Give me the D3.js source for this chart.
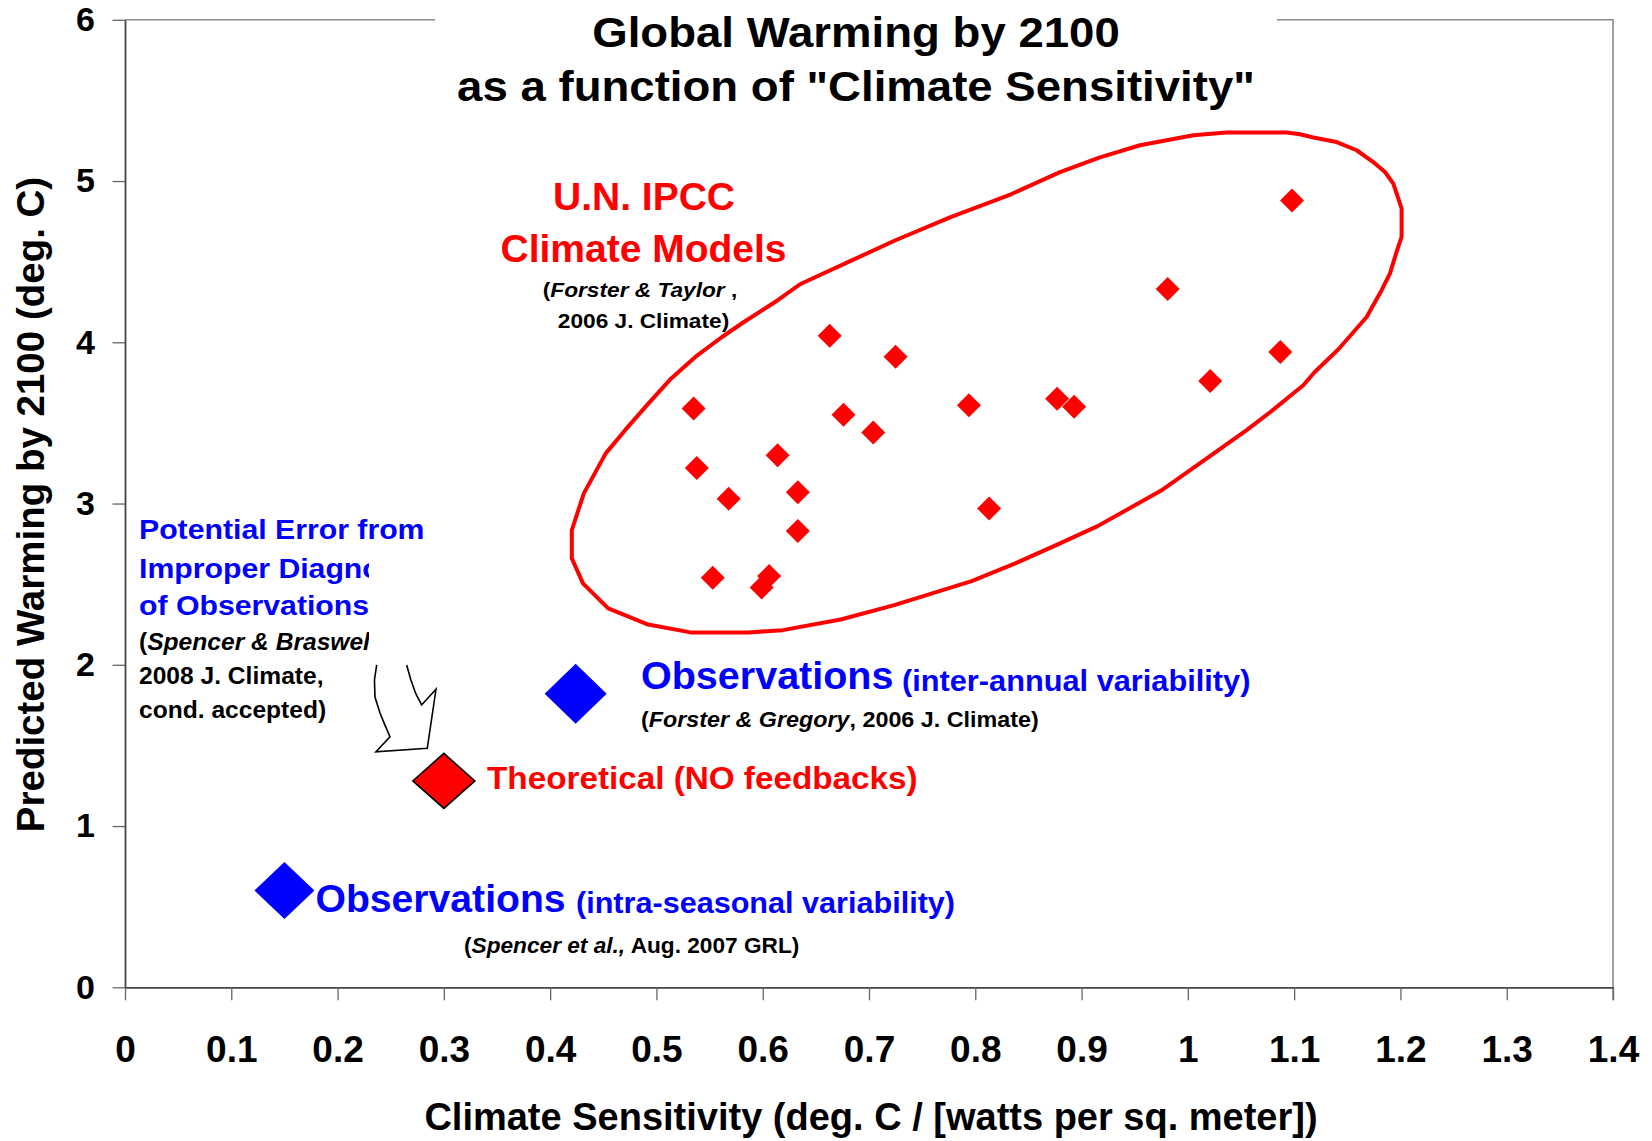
<!DOCTYPE html>
<html>
<head>
<meta charset="utf-8">
<script src="https://cdn.jsdelivr.net/npm/d3@7"></script>
<style>
  html, body { margin: 0; padding: 0; background: #fff; }
  svg { display: block; font-family: "Liberation Sans", Arial, sans-serif; }
</style>
</head>
<body>
<svg id="chart" width="1652" height="1141"></svg>
<script>
// Axis ticks
const xTicks = [0, 0.1, 0.2, 0.3, 0.4, 0.5, 0.6, 0.7, 0.8, 0.9, 1, 1.1, 1.2, 1.3, 1.4];
const xTickLabels = ["0", "0.1", "0.2", "0.3", "0.4", "0.5", "0.6", "0.7", "0.8", "0.9", "1", "1.1", "1.2", "1.3", "1.4"];
const yTicks = [0, 1, 2, 3, 4, 5, 6];
const yTickLabels = ["0", "1", "2", "3", "4", "5", "6"];

// IPCC climate models (Forster & Taylor 2006): sensitivity vs. warming by 2100
const ipccSensitivity = [0.663, 0.725, 0.535, 0.676, 0.704, 0.794, 0.877, 0.893, 1.021, 1.087,
                         0.614, 0.538, 0.568, 0.633, 0.813, 0.633, 0.553, 0.606, 0.599, 1.098, 0.981];
const ipccWarming     = [4.04, 3.91, 3.59, 3.55, 3.44, 3.61, 3.65, 3.60, 3.76, 3.94,
                         3.30, 3.22, 3.03, 3.07, 2.97, 2.83, 2.54, 2.55, 2.48, 4.88, 4.33];

// Single estimates: observations and no-feedback theory
const markerNames       = ["Observations (inter-annual)", "Observations (intra-seasonal)", "Theoretical (NO feedbacks)"];
const markerSensitivity = [0.424, 0.15, 0.30];
const markerWarming     = [1.82, 0.60, 1.28];

// Hand-drawn envelope round the model cloud (data units)
const envelopeX = [0.4204, 0.4317, 0.4523, 0.4705, 0.4911, 0.5139, 0.5366, 0.5617, 0.5823, 0.6142,
                   0.6351, 0.6802, 0.7249, 0.7762, 0.8336, 0.8797, 0.9173, 0.9550, 1.0051, 1.0365,
                   1.0929, 1.1055, 1.1180, 1.1400, 1.1588, 1.1744, 1.1855, 1.1933, 1.2011, 1.2011,
                   1.1964, 1.1901, 1.1823, 1.1682, 1.1415, 1.1196, 1.1086, 1.0819, 1.0553, 1.0155,
                   0.9745, 0.9151, 0.8740, 0.8376, 0.7966, 0.7237, 0.6734, 0.6188, 0.5868, 0.5321,
                   0.4911, 0.4546, 0.4309, 0.4204];
const envelopeY = [2.835, 3.063, 3.311, 3.455, 3.610, 3.776, 3.909, 4.033, 4.126, 4.261,
                   4.360, 4.497, 4.633, 4.775, 4.918, 5.055, 5.147, 5.222, 5.284, 5.301,
                   5.301, 5.290, 5.270, 5.242, 5.191, 5.118, 5.056, 4.984, 4.830, 4.654,
                   4.561, 4.426, 4.323, 4.157, 3.955, 3.817, 3.734, 3.590, 3.455, 3.269,
                   3.079, 2.860, 2.736, 2.629, 2.519, 2.370, 2.281, 2.215, 2.201, 2.201,
                   2.252, 2.350, 2.505, 2.660];

// Outline arrow pointing at the theoretical value (data units, open at the top)
const arrowX = [0.2368, 0.2347, 0.2352, 0.2399, 0.2446, 0.2493, 0.2361, 0.2844, 0.2926, 0.2791, 0.2737, 0.2690, 0.2650];
const arrowY = [1.999, 1.906, 1.800, 1.701, 1.626, 1.554, 1.461, 1.482, 1.848, 1.751, 1.819, 1.906, 1.999];

const svg = d3.select("#chart");
const x = d3.scaleLinear().domain([0, 1.4]).range([125, 1613]);
const y = d3.scaleLinear().domain([0, 6]).range([987.3, 19.8]);

const RED = "#ff0000", BLUE = "#0000ff", AXIS = "#444", FRAME = "#8a8a8a";

// Plot frame (top and right edges)
svg.append("path")
  .attr("d", `M${x(0)},${y(6)}H${x(1.4)}V${y(0) + 13}`)
  .attr("fill", "none").attr("stroke", FRAME).attr("stroke-width", 1.6);

// Axes
const gx = svg.append("g")
  .attr("transform", `translate(0,${y(0)})`)
  .call(d3.axisBottom(x).tickValues(xTicks).tickSize(13).tickSizeOuter(0).tickPadding(35)
        .tickFormat((d, i) => xTickLabels[i]));
const gy = svg.append("g")
  .attr("transform", `translate(${x(0)},0)`)
  .call(d3.axisLeft(y).tickValues(yTicks).tickSize(12.5).tickSizeOuter(0).tickPadding(17.5)
        .tickFormat((d, i) => yTickLabels[i]));

[gx, gy].forEach(g => {
  g.attr("font-family", null).attr("font-size", null);
  g.select(".domain").attr("stroke", AXIS).attr("stroke-width", 1.8);
  g.selectAll(".tick line").attr("stroke", "#666").attr("stroke-width", 1.3);
  g.selectAll(".tick text").attr("fill", "#000").attr("font-weight", "bold");
});
gx.selectAll(".tick text").attr("font-size", 37);
gy.selectAll(".tick text").attr("font-size", 34);

// Axis titles
svg.append("text")
  .attr("x", 871).attr("y", 1130)
  .attr("text-anchor", "middle").attr("font-size", 38).attr("font-weight", "bold")
  .text("Climate Sensitivity (deg. C / [watts per sq. meter])");
svg.append("text")
  .attr("transform", "translate(43.5,504.5) rotate(-90)")
  .attr("text-anchor", "middle").attr("font-size", 38.5).attr("font-weight", "bold")
  .text("Predicted Warming by 2100 (deg. C)");

// Text helper: bold text, optionally stretched horizontally, with italic runs
function label(parent, o) {
  const t = parent.append("text")
    .attr("transform", `translate(${o.x},${o.y}) scale(${o.sx || 1},1)`)
    .attr("text-anchor", o.anchor || "start")
    .attr("font-size", o.size)
    .attr("font-weight", "bold")
    .attr("fill", o.fill || "#000");
  o.parts.forEach(p => {
    if (typeof p === "string") t.append("tspan").text(p);
    else t.append("tspan").attr("font-style", "italic").text(p.i);
  });
  return t;
}

// Title on a white panel that breaks the top frame line
svg.append("rect").attr("x", 435).attr("y", 0).attr("width", 842).attr("height", 40).attr("fill", "#fff");
label(svg, { x: 856, y: 47, anchor: "middle", size: 43, sx: 1.06, parts: ["Global Warming by 2100"] });
label(svg, { x: 856, y: 101, anchor: "middle", size: 43, sx: 1.06, parts: ["as a function of \"Climate Sensitivity\""] });

// Envelope round the IPCC models
svg.append("path")
  .datum(envelopeX.map((v, i) => [v, envelopeY[i]]))
  .attr("d", d3.line().x(d => x(d[0])).y(d => y(d[1])).curve(d3.curveLinearClosed))
  .attr("fill", "none").attr("stroke", RED).attr("stroke-width", 4).attr("stroke-linejoin", "round");

// Diamond path around a centre
const diamond = (cx, cy, w, h) => `M${cx},${cy - h}L${cx + w},${cy}L${cx},${cy + h}L${cx - w},${cy}Z`;

// IPCC model points
svg.append("g").selectAll("path")
  .data(ipccSensitivity.map((v, i) => [v, ipccWarming[i]]))
  .join("path")
  .attr("d", d => diamond(x(d[0]), y(d[1]), 12, 12))
  .attr("fill", RED);

// IPCC label
label(svg, { x: 644, y: 210, anchor: "middle", size: 39, fill: RED, parts: ["U.N. IPCC"] });
label(svg, { x: 643.5, y: 261.5, anchor: "middle", size: 39, fill: RED, parts: ["Climate Models"] });
label(svg, { x: 640, y: 297, anchor: "middle", size: 21, sx: 1.08, parts: ["(", { i: "Forster & Taylor" }, " ,"] });
label(svg, { x: 643.5, y: 328, anchor: "middle", size: 21, sx: 1.08, parts: ["2006 J. Climate)"] });

// Arrow
svg.append("path")
  .datum(arrowX.map((v, i) => [v, arrowY[i]]))
  .attr("d", d3.line().x(d => x(d[0])).y(d => y(d[1])))
  .attr("fill", "#fff").attr("stroke", "#000").attr("stroke-width", 1.6).attr("stroke-linejoin", "miter");

// Potential-error note; its lower lines are clipped by the text box edge
svg.append("clipPath").attr("id", "noteClip")
  .append("rect").attr("x", 0).attr("y", 546).attr("width", 369).attr("height", 200);
const note = svg.append("g");
label(note, { x: 139, y: 539, size: 28, sx: 1.08, fill: BLUE, parts: ["Potential Error from"] });
const clipped = note.append("g").attr("clip-path", "url(#noteClip)");
label(clipped, { x: 139, y: 578, size: 28, sx: 1.08, fill: BLUE, parts: ["Improper Diagnosis"] });
label(clipped, { x: 139, y: 615, size: 28, sx: 1.08, fill: BLUE, parts: ["of Observations"] });
label(clipped, { x: 139, y: 650, size: 23, sx: 1.07, parts: ["(", { i: "Spencer & Braswell" }, ","] });
label(clipped, { x: 139, y: 684, size: 23, sx: 1.07, parts: ["2008 J. Climate,"] });
label(clipped, { x: 139, y: 718, size: 23, sx: 1.07, parts: ["cond. accepted)"] });

// Observation and theory markers
const markerSize = [[31, 30], [30, 28.5], [31, 27.5]];
const markerFill = [BLUE, BLUE, RED];
svg.append("g").selectAll("path")
  .data(markerNames.map((n, i) => ({ n, sx: markerSensitivity[i], w: markerWarming[i], i })))
  .join("path")
  .attr("d", d => diamond(x(d.sx), y(d.w), markerSize[d.i][0], markerSize[d.i][1]))
  .attr("fill", d => markerFill[d.i])
  .attr("stroke", d => d.i === 2 ? "#000" : "none")
  .attr("stroke-width", 1.6);

// Marker labels
label(svg, { x: 641, y: 689, size: 38, sx: 1.04, fill: BLUE, parts: ["Observations"] });
label(svg, { x: 902, y: 691, size: 29, sx: 1.06, fill: BLUE, parts: ["(inter-annual variability)"] });
label(svg, { x: 641, y: 727, size: 22, sx: 1.06, parts: ["(", { i: "Forster & Gregory" }, ", 2006 J. Climate)"] });

label(svg, { x: 315.5, y: 912, size: 38, sx: 1.03, fill: BLUE, parts: ["Observations"] });
label(svg, { x: 576, y: 913, size: 29, sx: 1.055, fill: BLUE, parts: ["(intra-seasonal variability)"] });
label(svg, { x: 464, y: 953, size: 22, sx: 1.03, parts: ["(", { i: "Spencer et al.," }, "  Aug. 2007 GRL)"] });

label(svg, { x: 487, y: 789, size: 32, sx: 1.04, fill: RED, parts: ["Theoretical (NO feedbacks)"] });
</script>
</body>
</html>
